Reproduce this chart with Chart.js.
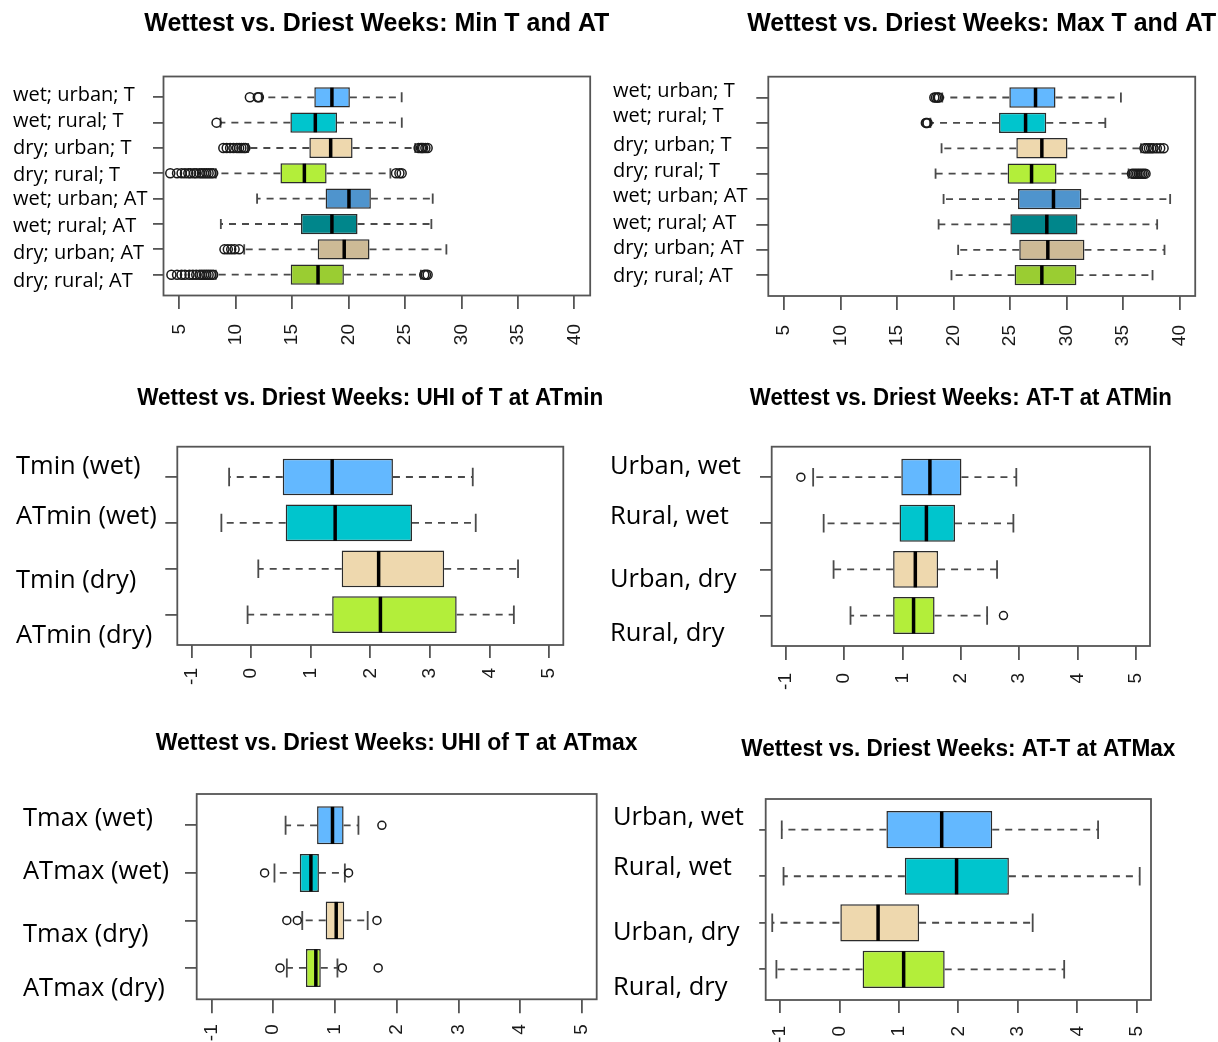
<!DOCTYPE html>
<html>
<head>
<meta charset="utf-8">
<script src="https://cdn.jsdelivr.net/npm/chart.js@4.4.1/dist/chart.umd.min.js"></script>
<style>
html,body{margin:0;padding:0;background:#fff;width:1218px;height:1042px;overflow:hidden}
canvas{position:absolute}
</style>
</head>
<body>
<canvas id="c1"></canvas>
<canvas id="c2"></canvas>
<canvas id="c3"></canvas>
<canvas id="c4"></canvas>
<canvas id="c5"></canvas>
<canvas id="c6"></canvas>
<script>
// categories and tick labels
const tempLabels = ['wet; urban; T','wet; rural; T','dry; urban; T','dry; rural; T','wet; urban; AT','wet; rural; AT','dry; urban; AT','dry; rural; AT'];
const uhiMinLabels = ['Tmin (wet)','ATmin (wet)','Tmin (dry)','ATmin (dry)'];
const uhiMaxLabels = ['Tmax (wet)','ATmax (wet)','Tmax (dry)','ATmax (dry)'];
const attLabels = ['Urban, wet','Rural, wet','Urban, dry','Rural, dry'];
const tempTicks = [5,10,15,20,25,30,35,40];
const diffTicks = [-1,0,1,2,3,4,5];

// Min T and AT
const minTQ1  = [16.96,14.84,16.52,13.96,17.96,15.78,17.26,14.87];
const minTMed = [18.52,17.05,18.41,16.08,20.03,18.52,19.61,17.29];
const minTQ3  = [20.11,18.97,20.35,18.05,21.97,20.79,21.85,19.58];
const minTLo  = [12.3,8.65,11.1,8.24,11.89,8.68,10.75,8.24];
const minTHi  = [24.7,24.71,25.9,23.7,27.45,27.33,28.66,26.4];
const minTOut = [
  [11.25,11.95,12.05],
  [8.3],
  [8.9,9.2,9.5,9.8,10.1,10.3,10.5,10.7,10.85,26.2,26.4,26.5,26.6,26.8,27.0],
  [4.2,4.8,5.2,5.5,5.8,6.0,6.3,6.5,6.8,7.0,7.2,7.4,7.6,7.8,8.0,24.2,24.5,24.7],
  [],
  [],
  [9.0,9.3,9.6,9.9,10.3],
  [4.3,4.8,5.2,5.5,5.9,6.2,6.5,6.8,7.0,7.2,7.4,7.6,7.8,8.0,26.7,26.85,27.0]
];

// Max T and AT
const maxTQ1  = [24.94,24.03,25.56,24.79,25.71,25.03,25.82,25.41];
const maxTMed = [27.26,26.38,27.82,26.91,28.85,28.26,28.35,27.82];
const maxTQ3  = [29.03,28.21,30.09,29.12,31.32,30.97,31.59,30.88];
const maxTLo  = [19.0,17.95,18.94,18.41,19.12,18.68,20.41,19.82];
const maxTHi  = [34.82,33.44,36.6,35.5,39.18,38.03,38.68,37.62];
const maxTOut = [
  [18.3,18.45,18.6,18.7],
  [17.55,17.6,17.7],
  [36.9,37.1,37.3,37.5,37.7,38.0,38.3,38.6],
  [35.8,35.95,36.1,36.25,36.4,36.55,36.7,36.85,37.0],
  [],[],[],[]
];

// UHI of T at ATmin
const uhiMinQ1  = [0.53,0.58,1.52,1.36];
const uhiMinMed = [1.36,1.41,2.14,2.17];
const uhiMinQ3  = [2.38,2.70,3.24,3.45];
const uhiMinLo  = [-0.37,-0.50,0.12,-0.06];
const uhiMinHi  = [3.72,3.77,4.48,4.41];
const uhiMinOut = [[],[],[],[]];

// AT-T at ATMin
const attMinQ1  = [0.98,0.95,0.84,0.84];
const attMinMed = [1.47,1.41,1.22,1.19];
const attMinQ3  = [2.01,1.90,1.61,1.55];
const attMinLo  = [-0.53,-0.35,-0.18,0.11];
const attMinHi  = [2.95,2.90,2.62,2.45];
const attMinOut = [[-0.74],[],[],[2.73]];

// UHI of T at ATmax
const uhiMaxQ1  = [0.71,0.43,0.85,0.53];
const uhiMaxMed = [0.96,0.61,1.02,0.69];
const uhiMaxQ3  = [1.14,0.74,1.15,0.77];
const uhiMaxLo  = [0.20,0.02,0.47,0.22];
const uhiMaxHi  = [1.38,1.16,1.53,1.04];
const uhiMaxOut = [[1.76],[-0.14,1.22],[0.22,0.39,1.68],[0.11,1.12,1.70]];

// AT-T at ATMax
const attMaxQ1  = [0.79,1.10,0.00,0.39];
const attMaxMed = [1.72,1.97,0.65,1.08];
const attMaxQ3  = [2.57,2.85,1.34,1.77];
const attMaxLo  = [-0.97,-0.94,-1.13,-1.06];
const attMaxHi  = [4.35,5.05,3.25,3.78];
const attMaxOut = [[],[],[],[]];

const colors8 = ['#63B8FF','#00C5CD','#EED8AE','#B3EE3A','#4F94CD','#00868B','#CDBA96','#9ACD32'];
const colors4 = colors8.slice(0,4);

// whiskers, staples, medians, outliers, frame and title
function boxExtras(d, g){
  return {
    id:'boxExtras',
    afterDatasetsDraw(chart){
      const ctx = chart.ctx, xs = chart.scales.x, ys = chart.scales.y;
      const bars = chart.getDatasetMeta(0).data;
      const px = v => xs.getPixelForValue(v);
      ctx.save();
      d.med.forEach((m,i)=>{
        const yc = ys.getPixelForValue(i+1);
        const half = bars[i].height/2;
        ctx.strokeStyle = '#4a4a4a'; ctx.lineWidth = 1.8;
        ctx.setLineDash([7,6]);
        ctx.beginPath();
        ctx.moveTo(px(d.q1[i]),yc); ctx.lineTo(px(d.lo[i]),yc);
        ctx.moveTo(px(d.q3[i]),yc); ctx.lineTo(px(d.hi[i]),yc);
        ctx.stroke();
        ctx.setLineDash([]);
        ctx.beginPath();
        [d.lo[i],d.hi[i]].forEach(v=>{ ctx.moveTo(px(v),yc-half/2); ctx.lineTo(px(v),yc+half/2); });
        ctx.stroke();
        ctx.strokeStyle = '#000'; ctx.lineWidth = 3.5;
        ctx.beginPath(); ctx.moveTo(px(m),yc-half+0.5); ctx.lineTo(px(m),yc+half-0.5); ctx.stroke();
        ctx.strokeStyle = '#1a1a1a'; ctx.lineWidth = 1.5;
        d.out[i].forEach(v=>{ ctx.beginPath(); ctx.arc(px(v),yc,g.or,0,Math.PI*2); ctx.stroke(); });
      });
      const a = chart.chartArea;
      ctx.strokeStyle = '#555'; ctx.lineWidth = 1.8;
      ctx.strokeRect(a.left,a.top,a.right-a.left,a.bottom-a.top);
      ctx.fillStyle = '#000';
      ctx.font = 'bold '+g.ts+'px "Liberation Sans", Arial, sans-serif';
      ctx.textAlign = 'center'; ctx.textBaseline = 'middle';
      ctx.fillText(d.title,(a.left+a.right)/2,g.ty-g.cy,g.tw);
      ctx.restore();
    }
  };
}

function panel(id, d, g){
  const n = d.labels.length;
  const rows = d.labels.map((_,i)=>i+1);
  const t0 = d.ticks[0], t1 = d.ticks[d.ticks.length-1];
  const ymin = 0.5-0.04*n, ymax = n+0.5+0.04*n;
  const el = document.getElementById(id);
  el.width = g.cw; el.height = g.ch;
  el.style.left = g.cx+'px'; el.style.top = g.cy+'px';
  new Chart(el,{
    type:'bar',
    data:{datasets:[{
      data: rows.map(r=>({y:r, x:[d.q1[r-1], d.q3[r-1]]})),
      backgroundColor: d.colors,
      borderColor:'#2b2b2b', borderWidth:1.5, borderSkipped:false,
      barPercentage:0.8, categoryPercentage:1,
      xAxisID:'x', yAxisID:'y'
    }]},
    options:{
      indexAxis:'y', responsive:false, animation:false, events:[],
      layout:{padding:{left:0, top:g.ft-g.cy, bottom:0, right:g.cx+g.cw-g.fr}},
      plugins:{legend:{display:false}, tooltip:{enabled:false}, title:{display:false}},
      scales:{
        x:{type:'linear', position:'bottom', min:t0-0.04*(t1-t0), max:t1+0.04*(t1-t0),
          afterBuildTicks:s=>{ s.ticks = d.ticks.map(v=>({value:v})); },
          afterFit:s=>{ s.height = g.cy+g.ch-g.fb; },
          grid:{drawOnChartArea:false, offset:false, tickLength:g.xtl, color:'#555', lineWidth:1.8},
          border:{display:false},
          ticks:{minRotation:90, maxRotation:90, autoSkip:false, padding:g.xpad, color:'#1a1a1a',
            font:{family:'Liberation Sans', size:19}}
        },
        y:{type:'linear', axis:'y', position:'left', reverse:true, offset:false, min:ymin, max:ymax, weight:0,
          afterBuildTicks:s=>{ s.ticks = rows.map(v=>({value:v})); },
          afterFit:s=>{ s.width = g.ytl; },
          grid:{drawOnChartArea:false, offset:false, tickLength:g.ytl, color:'#555', lineWidth:1.8},
          border:{display:false},
          ticks:{display:false}
        },
        yl:{type:'linear', axis:'y', position:'left', reverse:true, offset:false, min:ymin, max:ymax, weight:1,
          afterBuildTicks:s=>{ s.ticks = rows.map((v,i)=>({value:v+g.shift[i]})); },
          afterFit:s=>{ s.width = g.fl-g.ytl-g.cx; },
          grid:{display:false, offset:false}, border:{display:false},
          ticks:{crossAlign:'far', autoSkip:false, padding:0, color:'#000',
            font:{family:'Open Sans', size:g.ls},
            callback:(v,i)=>d.labels[i]}
        }
      }
    },
    plugins:[boxExtras(d, g)]
  });
}

panel('c1',
  {title:'Wettest vs. Driest Weeks: Min T and AT', labels:tempLabels, ticks:tempTicks, colors:colors8,
   q1:minTQ1, med:minTMed, q3:minTQ3, lo:minTLo, hi:minTHi, out:minTOut},
  {cx:13, cy:0, cw:600, ch:362, fl:163.5, ft:76.5, fr:591, fb:295.5, ytl:10.5, xtl:13.5, xpad:15,
   ty:24, ts:25, tw:465, ls:20, or:4.5, shift:[-0.09,-0.04,0.01,0.06,0.04,0.09,0.14,0.26]});

panel('c2',
  {title:'Wettest vs. Driest Weeks: Max T and AT', labels:tempLabels, ticks:tempTicks, colors:colors8,
   q1:maxTQ1, med:maxTMed, q3:maxTQ3, lo:maxTLo, hi:maxTHi, out:maxTOut},
  {cx:613, cy:0, cw:605, ch:362, fl:768.3, ft:76.7, fr:1196.7, fb:296, ytl:12, xtl:14, xpad:15,
   ty:24, ts:25, tw:469, ls:20, or:4.5, shift:[-0.26,-0.25,-0.13,-0.1,-0.09,-0.04,-0.04,0.06]});

panel('c3',
  {title:'Wettest vs. Driest Weeks: UHI of T at ATmin', labels:uhiMinLabels, ticks:diffTicks, colors:colors4,
   q1:uhiMinQ1, med:uhiMinMed, q3:uhiMinQ3, lo:uhiMinLo, hi:uhiMinHi, out:uhiMinOut},
  {cx:16, cy:370, cw:594, ch:330, fl:177.3, ft:446.7, fr:563.3, fb:645, ytl:12, xtl:13, xpad:10,
   ty:398.7, ts:23, tw:466, ls:25.5, or:4, shift:[-0.22,-0.14,0.26,0.45]});

panel('c4',
  {title:'Wettest vs. Driest Weeks: AT-T at ATMin', labels:attLabels, ticks:diffTicks, colors:colors4,
   q1:attMinQ1, med:attMinMed, q3:attMinQ3, lo:attMinLo, hi:attMinHi, out:attMinOut},
  {cx:610, cy:370, cw:608, ch:330, fl:771.7, ft:446.7, fr:1150, fb:646, ytl:11.7, xtl:14, xpad:13,
   ty:399, ts:23, tw:422, ls:25.5, or:4, shift:[-0.23,-0.14,0.22,0.40]});

panel('c5',
  {title:'Wettest vs. Driest Weeks: UHI of T at ATmax', labels:uhiMaxLabels, ticks:diffTicks, colors:colors4,
   q1:uhiMaxQ1, med:uhiMaxMed, q3:uhiMaxQ3, lo:uhiMaxLo, hi:uhiMaxHi, out:uhiMaxOut},
  {cx:23, cy:712, cw:627, ch:330, fl:196.7, ft:794, fr:596.7, fb:999.3, ytl:11.7, xtl:14, xpad:11,
   ty:744, ts:23, tw:486, ls:25.5, or:4, shift:[-0.13,-0.03,0.30,0.44]});

panel('c6',
  {title:'Wettest vs. Driest Weeks: AT-T at ATMax', labels:attLabels, ticks:diffTicks, colors:colors4,
   q1:attMaxQ1, med:attMaxMed, q3:attMaxQ3, lo:attMaxLo, hi:attMaxHi, out:attMaxOut},
  {cx:613, cy:712, cw:605, ch:330, fl:765.7, ft:799, fr:1151, fb:1000, ytl:6.5, xtl:13, xpad:13,
   ty:750, ts:23, tw:434, ls:25.5, or:4, shift:[-0.25,-0.18,0.21,0.39]});
</script>
</body>
</html>
